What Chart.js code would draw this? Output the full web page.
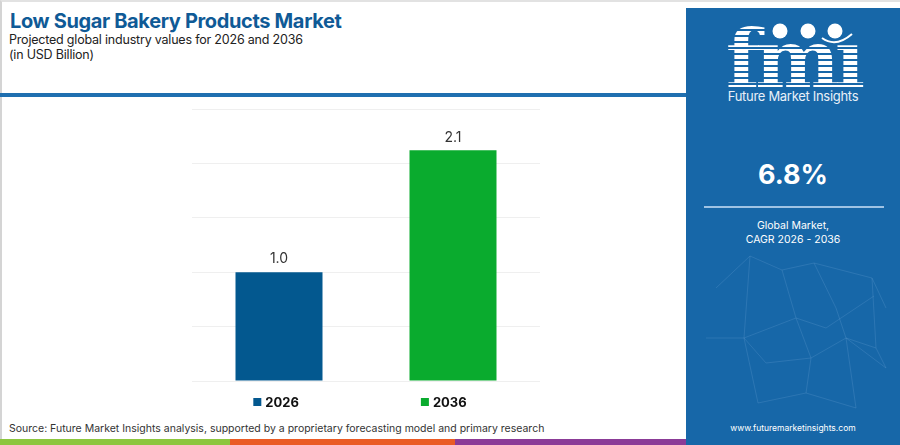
<!DOCTYPE html>
<html>
<head>
<meta charset="utf-8">
<script src="https://cdn.jsdelivr.net/npm/chart.js@4"></script>
<style>
  body { margin: 0; width: 900px; height: 445px; overflow: hidden; background: #fff; font-family: Inter, "Open Sans", sans-serif; position: relative; }
  .frame { position: absolute; left: 0; top: 0; width: 900px; height: 445px; border-left: 2px solid #d4d4d4; border-top: 2px solid #e2e2e2; box-sizing: border-box; }
  .title { position: absolute; left: 10px; top: 9px; font-size: 20px; font-weight: 700; color: #0f5a96; letter-spacing: -0.35px; }
  .sub { position: absolute; left: 9px; font-size: 12.5px; color: #222; letter-spacing: -0.2px; }
  .rule { position: absolute; left: 0; top: 93px; width: 690px; height: 4px; background: #1f6fb0; }
  .panel { position: absolute; left: 686px; top: 8px; width: 214px; height: 437px; background: #1767a8; color: #fff; text-align: center; overflow: hidden; }
  .panel svg { position: absolute; left: 0; top: 0; }
  .logo { position: absolute; left: 0; width: 214px; top: 11px; font-family: "DejaVu Serif", serif; font-weight: 700; font-size: 80px; line-height: 80px; letter-spacing: -5px;
          background: repeating-linear-gradient(to bottom, #fff 0 4px, rgba(255,255,255,0) 4px 6px); -webkit-background-clip: text; background-clip: text; color: transparent; }
  .fmi-name { position: absolute; left: 0; width: 214px; top: 80px; font-size: 13px; color: #e8f0f8; letter-spacing: -0.3px; }
  .cagr { position: absolute; left: 0; width: 214px; top: 150px; font-size: 27px; font-weight: 700; }
  .pline { position: absolute; left: 18px; top: 198px; width: 180px; height: 2px; background: #9fc3e4; }
  .pnote { position: absolute; left: 0; width: 214px; top: 211px; font-size: 10.5px; line-height: 14px; }
  .url { position: absolute; left: 0; width: 214px; top: 415px; font-size: 8.5px; }
  .source { position: absolute; left: 9px; top: 422px; font-size: 10.5px; color: #333; }
  .strip { position: absolute; top: 439px; height: 6px; }
  #wrap { position: absolute; left: 60px; top: 100px; width: 600px; height: 320px; }
</style>
</head>
<body>
<div class="frame"></div>
<div class="title">Low Sugar Bakery Products Market</div>
<div class="sub" style="top:32px">Projected global industry values for 2026 and 2036</div>
<div class="sub" style="top:47px">(in USD Billion)</div>
<div class="rule"></div>

<div id="wrap"><canvas id="chart"></canvas></div>

<div class="source">Source: Future Market Insights analysis, supported by a proprietary forecasting model and primary research</div>
<div class="strip" style="left:0;width:230px;background:#8dc63f"></div>
<div class="strip" style="left:230px;width:225px;background:#ea5b25"></div>
<div class="strip" style="left:455px;width:231px;background:#8b3b97"></div>

<div class="panel">
  <svg width="214" height="437" viewBox="0 0 214 437">
    <g stroke="#6fa6d4" stroke-opacity="0.35" stroke-width="0.7" fill="none">
      <polyline points="30,280 64,248 96,262 128,255 186,270 200,300"/>
      <polyline points="64,248 58,330 80,355 125,350 160,330 190,340"/>
      <polyline points="96,262 110,310 140,320 188,288"/>
      <polyline points="20,330 58,330 72,395 120,385 170,400"/>
      <polyline points="128,255 150,300 160,330 170,400"/>
      <polyline points="58,330 110,310 125,350 120,385"/>
      <polyline points="160,330 200,360 190,340 186,270"/>
    </g>
    <g fill="#fff">
      <circle cx="94" cy="23" r="7.5"/>
      <circle cx="122" cy="23" r="7.5"/>
      <circle cx="149" cy="23" r="7.5"/>
    </g>
    <path d="M136,30 Q150,40 166,26" stroke="#fff" stroke-width="2" fill="none"/>
  </svg>
  <div class="logo">fmı</div>
  <div class="fmi-name">Future Market Insights</div>
  <div class="cagr">6.8%</div>
  <div class="pline"></div>
  <div class="pnote">Global Market,<br>CAGR 2026 - 2036</div>
  <div class="url">www.futuremarketinsights.com</div>
</div>

<script>
// chart data
const years = ['2026', '2036'];
const marketValues = [1.0, 2.12];
const barColors = ['#03588f', '#0aab2e'];
const yTicks = [0, 0.5, 1.0, 1.5, 2.0, 2.5];

// value labels above bars
const valueLabels = {
  id: 'valueLabels',
  afterDatasetsDraw(chart) {
    const ctx = chart.ctx;
    const meta = chart.getDatasetMeta(0);
    ctx.save();
    ctx.font = '14px Inter, "Open Sans", sans-serif';
    ctx.fillStyle = '#333';
    ctx.textAlign = 'center';
    ctx.textBaseline = 'bottom';
    meta.data.forEach((bar, i) => {
      ctx.fillText(marketValues[i].toFixed(1), bar.x, bar.y - 6);
    });
    ctx.restore();
  }
};

// legend row under the plot
const bottomLegend = {
  id: 'bottomLegend',
  afterDraw(chart) {
    const ctx = chart.ctx;
    const gap = 122;
    ctx.save();
    ctx.font = 'bold 13px Inter, "Open Sans", sans-serif';
    ctx.textBaseline = 'middle';
    const widths = years.map(t => 12 + ctx.measureText(t).width);
    const total = widths.reduce((a, b) => a + b, 0) + gap * (years.length - 1);
    let x = chart.width / 2 - total / 2;
    const y = chart.chartArea.bottom + 21;
    years.forEach((t, i) => {
      ctx.fillStyle = barColors[i];
      ctx.fillRect(x, y - 4, 8, 8);
      ctx.fillStyle = '#111';
      ctx.fillText(t, x + 12, y + 1);
      x += widths[i] + gap;
    });
    ctx.restore();
  }
};

new Chart(document.getElementById('chart'), {
  type: 'bar',
  data: {
    labels: years,
    datasets: [{
      data: marketValues,
      backgroundColor: barColors,
      categoryPercentage: 1.0,
      barPercentage: 0.5
    }]
  },
  options: {
    responsive: true,
    maintainAspectRatio: false,
    animation: false,
    layout: { padding: { left: 132, right: 120, top: 9, bottom: 39 } },
    plugins: { legend: { display: false }, tooltip: { enabled: false } },
    scales: {
      x: { display: false },
      y: {
        min: 0, max: 2.5,
        afterBuildTicks: axis => { axis.ticks = yTicks.map(v => ({ value: v })); },
        ticks: { display: false },
        grid: { color: '#efefef', drawTicks: false },
        border: { display: false }
      }
    }
  },
  plugins: [valueLabels, bottomLegend]
});
</script>
</body>
</html>
